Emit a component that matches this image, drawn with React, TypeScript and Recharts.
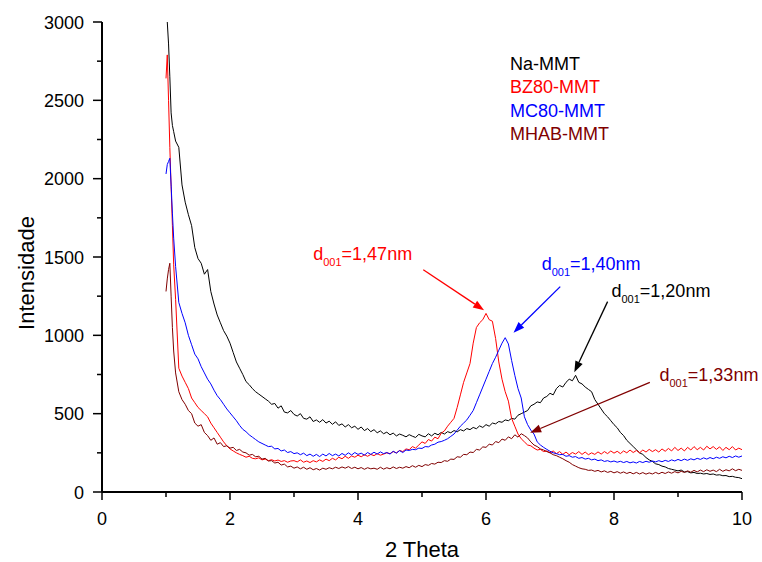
import { LineChart, Line, XAxis, YAxis, ReferenceLine, ReferenceDot, Legend } from "recharts";

const FONT = '"Liberation Sans", Arial, Helvetica, sans-serif';

// 2 theta positions (degrees)
const theta = [
  1.0, 1.02, 1.04, 1.06, 1.08, 1.1, 1.12, 1.15,
  1.2, 1.25, 1.3, 1.35, 1.4, 1.45, 1.5, 1.55, 1.6, 1.65, 1.7, 1.75, 1.8, 1.85, 1.9, 1.95,
  2.0, 2.05, 2.1, 2.15, 2.2, 2.25, 2.3, 2.35, 2.4, 2.45, 2.5, 2.55, 2.6, 2.65, 2.7, 2.75, 2.8, 2.85, 2.9, 2.95,
  3.0, 3.05, 3.1, 3.15, 3.2, 3.25, 3.3, 3.35, 3.4, 3.45, 3.5, 3.55, 3.6, 3.65, 3.7, 3.75, 3.8, 3.85, 3.9, 3.95,
  4.0, 4.05, 4.1, 4.15, 4.2, 4.25, 4.3, 4.35, 4.4, 4.45, 4.5, 4.55, 4.6, 4.65, 4.7, 4.75, 4.8, 4.85, 4.9, 4.95,
  5.0, 5.05, 5.1, 5.15, 5.2, 5.25, 5.3, 5.35, 5.4, 5.45, 5.5, 5.55, 5.6, 5.65, 5.7, 5.75, 5.8, 5.85, 5.9, 5.95,
  6.0, 6.05, 6.1, 6.15, 6.2, 6.25, 6.3, 6.35, 6.4, 6.45, 6.5, 6.55, 6.6, 6.65, 6.7, 6.75, 6.8, 6.85, 6.9, 6.95,
  7.0, 7.05, 7.1, 7.15, 7.2, 7.25, 7.3, 7.35, 7.4, 7.45, 7.5, 7.55, 7.6, 7.65, 7.7, 7.75, 7.8, 7.85, 7.9, 7.95,
  8.0, 8.05, 8.1, 8.15, 8.2, 8.25, 8.3, 8.35, 8.4, 8.45, 8.5, 8.55, 8.6, 8.65, 8.7, 8.75, 8.8, 8.85, 8.9, 8.95,
  9.0, 9.05, 9.1, 9.15, 9.2, 9.25, 9.3, 9.35, 9.4, 9.45, 9.5, 9.55, 9.6, 9.65, 9.7, 9.75, 9.8, 9.85, 9.9, 9.95,
  10.0,
];

const naMMT = [
  3200, 3000, 2860, 2650, 2420, 2340, 2300, 2240,
  2200, 1960, 1850, 1770, 1700, 1560, 1490, 1460, 1390, 1420, 1280, 1200, 1130, 1080, 1030, 995,
  950, 890, 830, 790, 750, 705, 685, 660, 640, 625, 610, 595, 580, 560, 565, 535, 550, 510, 505, 520,
  495, 485, 500, 470, 465, 480, 450, 460, 445, 462, 440, 452, 432, 448, 425, 435, 415, 430, 410, 420,
  400, 415, 392, 405, 385, 398, 378, 390, 372, 382, 365, 376, 358, 370, 362, 352, 366, 356, 348, 368,
  358, 352, 372, 358, 375, 365, 380, 370, 385, 378, 392, 384, 398, 390, 405, 398, 412, 404, 422, 412,
  430, 420, 440, 435, 450, 445, 460, 455, 470, 465, 490, 500, 510, 520, 550, 560, 575, 570, 600, 610,
  630, 620, 660, 680, 670, 700, 720, 710, 745, 700, 690, 670, 655, 640, 590, 560, 530, 500, 480, 455,
  430, 410, 380, 360, 330, 310, 290, 270, 250, 240, 220, 205, 195, 180, 175, 165, 160, 150, 145, 140,
  135, 140, 128, 130, 122, 125, 118, 120, 115, 118, 112, 115, 108, 110, 104, 105, 98, 100, 94, 92,
  85,
];

const bz80MMT = [
  2640, 2790, 2500, 2200, 1950, 1700, 1450, 1230,
  790, 740, 700, 660, 600, 570, 540, 520, 500, 480, 440, 410, 380, 350, 320, 295,
  275, 262, 250, 240, 232, 222, 228, 215, 212, 218, 205, 210, 200, 206, 198, 204, 195, 200, 190, 198,
  200, 192, 205, 190, 198, 188, 200, 192, 205, 195, 210, 200, 215, 205, 222, 212, 228, 215, 230, 222,
  235, 225, 238, 228, 240, 232, 245, 235, 242, 250, 245, 258, 250, 265, 258, 275, 270, 290, 280, 300,
  320, 310, 335, 325, 350, 340, 375, 390, 420, 445, 470, 540, 620, 700, 760, 820, 950, 1050, 1080, 1100,
  1140, 1100, 1090, 980, 830, 720, 640, 580, 470, 420, 370, 340, 320, 300, 295, 280, 268, 272, 258, 262,
  250, 262, 245, 258, 240, 255, 238, 252, 242, 258, 240, 255, 238, 250, 240, 256, 242, 258, 245, 262,
  248, 260, 245, 262, 250, 268, 252, 265, 250, 268, 255, 272, 258, 270, 255, 275, 260, 278, 262, 285,
  265, 280, 262, 285, 268, 290, 270, 285, 268, 292, 275, 290, 272, 288, 265, 285, 270, 290, 268, 280,
  270,
];

const mc80MMT = [
  2030, 2090, 2110, 2130, 1960, 1780, 1620, 1440,
  1210, 1140, 1080, 1000, 940, 880, 850, 800, 760, 720, 690, 650, 615, 590, 560, 530,
  505, 480, 455, 425, 400, 385, 365, 350, 335, 320, 310, 300, 290, 292, 275, 278, 262, 268, 252, 258,
  245, 250, 238, 248, 232, 242, 228, 240, 226, 242, 230, 246, 232, 242, 230, 246, 234, 250, 236, 252,
  240, 248, 235, 252, 240, 254, 242, 256, 245, 252, 242, 260, 248, 264, 252, 268, 265, 272, 270, 280,
  278, 290, 288, 300, 305, 318, 322, 330, 340, 355, 370, 395, 420, 440, 460, 490, 520, 570, 620, 670,
  720, 770, 820, 860, 905, 950, 985, 945, 840, 745, 660, 600, 480, 430, 395, 370, 320, 300, 285, 272,
  260, 250, 245, 238, 240, 228, 232, 222, 226, 215, 220, 210, 215, 205, 210, 200, 205, 195, 200, 192,
  198, 190, 196, 188, 195, 186, 192, 185, 195, 188, 196, 190, 198, 192, 200, 193, 202, 195, 205, 198,
  208, 200, 210, 202, 212, 205, 215, 208, 218, 210, 220, 212, 222, 215, 225, 218, 228, 220, 230, 222,
  230,
];

const mhabMMT = [
  1280, 1360, 1420, 1460, 1250, 1050, 900, 760,
  640, 590, 560, 520, 500, 440, 420, 430, 380, 360, 330, 345, 305, 315, 290, 295,
  280, 285, 265, 272, 255, 250, 235, 240, 225, 228, 210, 215, 198, 200, 185, 190, 172, 178, 160, 165,
  152, 160, 148, 158, 145, 155, 142, 150, 140, 152, 145, 155, 148, 158, 150, 160, 152, 162, 150, 158,
  148, 156, 145, 155, 148, 152, 145, 158, 146, 155, 148, 160, 150, 158, 152, 162, 155, 168, 158, 170,
  162, 175, 170, 182, 178, 190, 188, 200, 196, 210, 208, 225, 222, 240, 238, 255, 252, 272, 268, 288,
  285, 305, 300, 322, 315, 338, 330, 352, 340, 365, 350, 372, 360, 345, 320, 300, 290, 275, 268, 258,
  250, 238, 232, 222, 212, 200, 190, 175, 165, 155, 148, 145, 138, 140, 132, 138, 128, 135, 125, 132,
  122, 130, 120, 128, 118, 126, 116, 125, 115, 124, 114, 122, 115, 125, 116, 126, 118, 128, 120, 130,
  122, 132, 125, 135, 126, 138, 128, 140, 130, 142, 132, 140, 130, 145, 132, 142, 135, 148, 136, 145,
  138,
];

const seriesNames = ["Na-MMT", "BZ80-MMT", "MC80-MMT", "MHAB-MMT"];
const seriesKeys = ["na", "bz", "mc", "mhab"];
const seriesColors = ["#000000", "#ff0000", "#0000ff", "#800000"];

const xTicks = [0, 1, 2, 3, 4, 5, 6, 7, 8, 9, 10];
const yTicks = [0, 250, 500, 750, 1000, 1250, 1500, 1750, 2000, 2250, 2500, 2750, 3000];

// peak annotations, same order as the series: label text anchor, arrow tail, arrow head (data units)
const peakD = ["1,20", "1,47", "1,40", "1,33"];
const peakLabelAt = [[7.96, 1245], [3.3, 1483], [6.87, 1415], [8.71, 707]];
const arrowFrom = [[7.9, 1215], [5.02, 1419], [7.16, 1311], [8.56, 700]];
const arrowTo = [[7.38, 765], [5.97, 1160], [6.43, 1017], [6.69, 378]];

const data = theta.map((t, i) => ({
  x: t,
  na: naMMT[i],
  bz: bz80MMT[i],
  mc: mc80MMT[i],
  mhab: mhabMMT[i],
}));

function XTick(props: any) {
  const { x, y, payload } = props;
  const major = payload.value % 2 === 0;
  return (
    <g>
      <line x1={x} y1={y} x2={x} y2={y + (major ? 8 : 5)} stroke="#000" strokeWidth={1.5} />
      {major && (
        <text x={x} y={y + 33} textAnchor="middle" fontSize={18} fontFamily={FONT} fill="#000">
          {payload.value}
        </text>
      )}
    </g>
  );
}

function YTick(props: any) {
  const { x, y, payload } = props;
  const major = payload.value % 500 === 0;
  return (
    <g>
      <line x1={x - (major ? 9 : 5)} y1={y} x2={x} y2={y} stroke="#000" strokeWidth={1.5} />
      {major && (
        <text x={x - 18} y={y + 6.5} textAnchor="end" fontSize={18} fontFamily={FONT} fill="#000">
          {payload.value}
        </text>
      )}
    </g>
  );
}

function xTitle(props: any) {
  const { x, y, width } = props.viewBox;
  return (
    <text x={x + width / 2} y={y + 65} textAnchor="middle" fontSize={22} fontFamily={FONT} fill="#000">
      2 Theta
    </text>
  );
}

function yTitle(props: any) {
  const { x, y, height } = props.viewBox;
  const cx = x + 34;
  const cy = y + height / 2 + 16;
  return (
    <text x={cx} y={cy} transform={`rotate(-90 ${cx} ${cy})`} textAnchor="middle" fontSize={22} fontFamily={FONT} fill="#000">
      Intensidade
    </text>
  );
}

const arrowShape = (color: string) => (props: any) => {
  const { x1, y1, x2, y2 } = props;
  const ang = Math.atan2(y2 - y1, x2 - x1);
  const len = 11;
  const half = 4;
  const bx = x2 - len * Math.cos(ang);
  const by = y2 - len * Math.sin(ang);
  const px = -Math.sin(ang) * half;
  const py = Math.cos(ang) * half;
  return (
    <g>
      <line x1={x1} y1={y1} x2={bx} y2={by} stroke={color} strokeWidth={1.3} />
      <polygon points={`${x2},${y2} ${bx + px},${by + py} ${bx - px},${by - py}`} fill={color} />
    </g>
  );
};

const peakLabel = (d: string, color: string) => (props: any) => {
  const { x, y } = props.viewBox;
  return (
    <text x={x} y={y} fill={color} fontSize={18} fontFamily={FONT}>
      <tspan>d</tspan>
      <tspan fontSize={11} dy={6}>001</tspan>
      <tspan dy={-6}>={d}nm</tspan>
    </text>
  );
};

function LegendBox() {
  return (
    <div style={{ fontFamily: FONT, fontSize: 18, lineHeight: "23.4px", whiteSpace: "nowrap" }}>
      {seriesNames.map((n, i) => (
        <div key={n} style={{ color: seriesColors[i] }}>{n}</div>
      ))}
    </div>
  );
}

export default function App() {
  return (
    <div style={{ position: "absolute", left: 0, top: 0, background: "#fff" }}>
      <LineChart width={762} height={562} data={data} margin={{ top: 22, right: 20, bottom: 0, left: 0 }}>
        <XAxis
          dataKey="x"
          type="number"
          domain={[0, 10]}
          ticks={xTicks}
          interval={0}
          tick={XTick}
          tickLine={false}
          tickSize={0}
          tickMargin={0}
          height={70}
          axisLine={{ stroke: "#000", strokeWidth: 2 }}
          label={xTitle}
          allowDataOverflow
        />
        <YAxis
          type="number"
          domain={[0, 3000]}
          ticks={yTicks}
          interval={0}
          tick={YTick}
          tickLine={false}
          tickSize={0}
          tickMargin={0}
          width={102}
          axisLine={{ stroke: "#000", strokeWidth: 2 }}
          label={yTitle}
          allowDataOverflow
        />
        {seriesKeys.map((k, i) => (
          <Line
            key={k}
            type="linear"
            dataKey={k}
            name={seriesNames[i]}
            stroke={seriesColors[i]}
            strokeWidth={1}
            dot={false}
            isAnimationActive={false}
          />
        ))}
        {seriesKeys.map((k, i) => (
          <ReferenceLine
            key={"a" + k}
            segment={[
              { x: arrowFrom[i][0], y: arrowFrom[i][1] },
              { x: arrowTo[i][0], y: arrowTo[i][1] },
            ]}
            shape={arrowShape(seriesColors[i])}
            ifOverflow="visible"
          />
        ))}
        {seriesKeys.map((k, i) => (
          <ReferenceDot
            key={"l" + k}
            x={peakLabelAt[i][0]}
            y={peakLabelAt[i][1]}
            r={0}
            fill="none"
            stroke="none"
            ifOverflow="visible"
            label={peakLabel(peakD[i], seriesColors[i])}
          />
        ))}
        <Legend
          layout="vertical"
          verticalAlign="middle"
          align="center"
          wrapperStyle={{ left: 510, top: 53, width: "auto" }}
          content={LegendBox}
        />
      </LineChart>
    </div>
  );
}
